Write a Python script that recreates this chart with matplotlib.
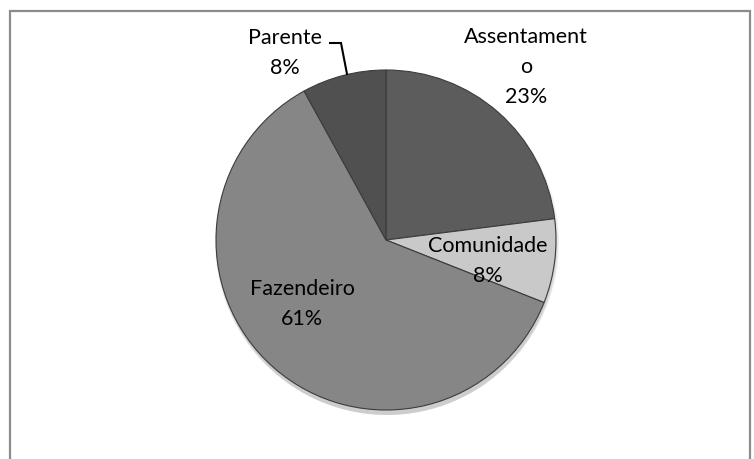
import matplotlib
matplotlib.use("Agg")
import matplotlib.pyplot as plt
from matplotlib.patches import Rectangle

# dados do gráfico
categorias = ["Assentamento", "Comunidade", "Fazendeiro", "Parente"]
valores = [23, 8, 61, 8]
cores = ["#5c5c5c", "#c9c9c9", "#868686", "#505050"]

W, H = 754, 459
fig = plt.figure(figsize=(W / 100, H / 100), dpi=100)
ax = fig.add_axes([0, 0, 1, 1])

# moldura cinza do gráfico
fig.patches.append(Rectangle((10 / W, -0.05), 740 / W, 1.05 - 11 / H,
                             transform=fig.transFigure, fill=False,
                             edgecolor="#8c8c8c", linewidth=1.6))

cx, cy, r = 386, H - 240, 170

# sombra suave sob a pizza
for i in range(4):
    sh = plt.Circle((cx + 1, cy - 3 - i), r + 2 - i, color="black", alpha=0.05, lw=0)
    ax.add_patch(sh)

wedges, _ = ax.pie(valores, colors=cores, startangle=90, counterclock=False,
                   center=(cx, cy), radius=r, frame=True,
                   wedgeprops=dict(edgecolor="#3c3c3c", linewidth=0.8))
ax.set_xlim(0, W)
ax.set_ylim(0, H)
ax.set_aspect("equal")
ax.axis("off")

fonte = dict(family=["Lato", "DejaVu Sans"], fontsize=15.5, color="black",
             ha="center", va="center", linespacing=1.6)

ax.text(526, H - 67, "Assentament\no\n%d%%" % valores[0], **fonte)
ax.text(488, H - 261, "Comunidade\n%d%%" % valores[1], **fonte)
ax.text(302, H - 304, "Fazendeiro\n%d%%" % valores[2], **fonte)
ax.text(285, H - 53, "Parente\n%d%%" % valores[3], **fonte)

# linha de chamada do Parente
ax.plot([330, 341, 347], [H - 43, H - 43, H - 74], color="black", lw=1.5,
        solid_joinstyle="miter")

fig.savefig("out.png", dpi=100)
